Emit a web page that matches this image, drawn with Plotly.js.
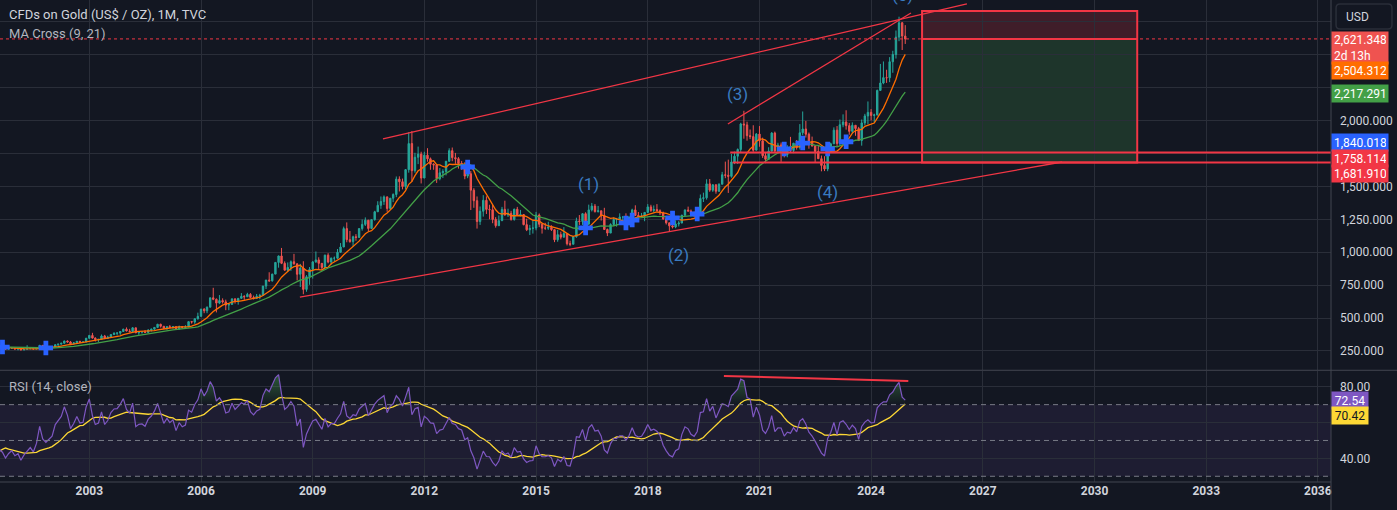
<!DOCTYPE html>
<html><head><meta charset="utf-8">
<script src="https://cdn.plot.ly/plotly-3.0.1.min.js"></script>
<style>html,body{margin:0;padding:0;background:#131722;}#chart{width:1397px;height:510px;}</style>
</head><body><div id="chart"></div>
<script>
// ---- monthly OHLC, TVC:GOLD, Jan 1997 .. Dec 2024 (one row per year) ----
const firstYear = 1997;
const opens = [
369,345,364,349,340,345,334,326,325,332,311,296,
290,304,297,301,310,293,296,288,273,294,292,294,
288,288,287,280,287,268,262,255,254,299,300,292,
288,283,293,277,274,272,288,276,277,273,264,269,
272,265,267,258,263,266,270,265,273,293,279,275,
279,282,297,302,309,326,318,304,312,324,317,318,
347,368,348,336,339,364,346,355,375,385,386,398,
416,402,397,426,388,394,395,391,408,416,429,453,
438,422,435,428,435,417,436,429,433,473,470,495,
513,568,556,583,654,643,614,633,623,599,604,646,
632,650,665,662,680,657,650,666,672,743,789,783,
834,923,972,916,864,885,928,912,833,880,718,814,
870,927,942,916,884,978,926,955,955,1000,1040,1180,
1096,1081,1118,1113,1180,1212,1244,1181,1248,1308,1357,1386,
1421,1333,1411,1439,1556,1536,1500,1628,1826,1620,1722,1746,
1564,1738,1710,1669,1664,1559,1604,1614,1692,1772,1719,1711,
1675,1664,1579,1597,1472,1392,1234,1312,1395,1326,1323,1250,
1202,1240,1326,1284,1296,1250,1327,1282,1287,1210,1171,1182,
1184,1283,1213,1183,1183,1190,1172,1095,1134,1115,1142,1065,
1061,1118,1238,1234,1293,1215,1322,1351,1309,1315,1277,1173,
1146,1211,1249,1249,1268,1268,1242,1269,1322,1280,1271,1275,
1303,1345,1318,1325,1316,1299,1253,1224,1201,1192,1215,1222,
1282,1321,1313,1292,1284,1305,1409,1414,1520,1472,1513,1464,
1517,1589,1585,1577,1686,1730,1781,1975,1968,1886,1879,1776,
1898,1847,1734,1707,1769,1906,1770,1814,1813,1742,1783,1774,
1829,1796,1908,1937,1897,1837,1807,1766,1711,1660,1633,1768,
1824,1928,1827,1969,1990,1962,1919,1965,1940,1849,1983,2036,
2063,2040,2044,2230,2286,2327,2326,2448,2503,2635,2744,2643];
const highs = [
370,366,365,350,350,346,335,330,336,334,316,298,
307,305,304,316,311,300,297,289,300,304,299,297,
294,291,291,292,290,269,264,257,310,339,305,294,
293,313,294,288,278,294,291,281,279,274,272,275,
273,268,269,266,294,276,272,280,296,294,284,281,
288,302,304,311,328,330,326,316,326,325,323,349,
372,388,354,341,375,372,366,377,392,392,399,418,
429,418,431,427,396,398,409,416,418,430,456,457,
439,437,447,437,436,443,437,446,474,478,497,541,
570,575,588,655,730,649,675,650,640,608,648,649,
652,690,674,692,690,671,683,684,745,790,848,837,
925,975,1033,931,923,938,988,916,912,932,826,888,
933,1006,962,916,982,993,960,968,1025,1070,1195,1227,
1162,1126,1138,1180,1249,1265,1245,1250,1315,1388,1424,1432,
1424,1412,1448,1576,1577,1560,1632,1913,1921,1756,1803,1764,
1764,1791,1720,1677,1668,1640,1631,1692,1790,1796,1755,1723,
1694,1684,1617,1617,1487,1424,1348,1434,1425,1361,1361,1267,
1280,1345,1392,1331,1315,1332,1345,1322,1290,1255,1208,1239,
1307,1295,1220,1224,1232,1205,1174,1170,1157,1191,1142,1088,
1123,1263,1283,1298,1304,1362,1375,1367,1352,1317,1338,1180,
1220,1264,1261,1296,1270,1296,1270,1331,1357,1306,1299,1306,
1366,1361,1356,1366,1326,1309,1266,1224,1214,1243,1237,1284,
1326,1347,1325,1310,1306,1439,1453,1555,1557,1517,1516,1524,
1611,1689,1704,1747,1765,1789,1984,2075,1992,1933,1965,1906,
1959,1871,1756,1798,1913,1917,1832,1834,1834,1814,1877,1831,
1853,1974,2070,1998,1910,1879,1814,1808,1735,1730,1786,1833,
1949,1959,2009,2048,2079,1983,1987,1966,1953,2009,2052,2146,
2088,2053,2236,2431,2450,2387,2483,2531,2685,2790,2750,2726];
const lows = [
344,340,347,336,338,334,318,320,318,306,294,283,
278,290,291,300,290,288,287,271,272,290,289,285,
284,281,278,278,267,257,252,251,254,295,288,279,
281,283,274,273,264,272,273,269,267,263,263,267,
262,255,256,255,263,264,264,264,271,277,272,271,
278,282,288,300,307,313,302,300,311,311,314,317,
343,344,322,319,337,340,341,350,371,368,373,398,
399,392,391,386,372,382,389,388,398,411,424,428,
417,411,425,420,414,414,418,428,433,458,456,488,
513,537,537,581,636,543,606,610,560,560,603,610,
602,646,637,661,651,641,648,643,671,721,776,777,
834,883,910,860,850,859,906,786,736,681,700,753,
800,920,866,866,883,916,905,931,950,995,1040,1076,
1073,1044,1088,1111,1164,1200,1157,1177,1240,1308,1330,1360,
1308,1323,1381,1419,1462,1478,1478,1605,1535,1604,1670,1523,
1564,1688,1627,1627,1527,1547,1564,1584,1686,1692,1672,1636,
1626,1555,1563,1321,1338,1180,1208,1271,1291,1251,1221,1187,
1202,1238,1278,1268,1240,1240,1281,1273,1205,1161,1131,1142,
1167,1191,1142,1170,1170,1162,1077,1080,1098,1112,1052,1046,
1061,1111,1208,1208,1200,1207,1310,1302,1302,1241,1171,1123,
1146,1200,1195,1242,1214,1236,1205,1267,1275,1260,1264,1236,
1302,1307,1303,1311,1282,1247,1211,1160,1181,1183,1196,1221,
1276,1311,1281,1266,1267,1305,1382,1400,1459,1459,1445,1459,
1517,1563,1451,1567,1670,1671,1757,1863,1848,1860,1764,1776,
1802,1717,1677,1705,1765,1761,1751,1687,1721,1722,1759,1753,
1780,1781,1890,1872,1787,1805,1681,1709,1615,1617,1616,1765,
1824,1804,1810,1950,1932,1893,1903,1885,1846,1810,1965,1973,
2002,1985,2039,2228,2277,2287,2293,2364,2472,2604,2537,2583];
const closes = [
345,364,349,340,345,334,326,325,332,311,296,290,
304,297,301,310,293,296,288,273,294,292,294,288,
288,287,280,287,268,262,255,254,299,300,292,288,
283,293,277,274,272,288,276,277,273,264,269,272,
265,267,258,263,266,270,265,273,293,279,275,279,
282,297,302,309,326,318,304,312,324,317,318,347,
368,348,336,339,364,346,355,375,385,386,398,416,
402,397,426,388,394,395,391,408,416,429,453,438,
422,435,428,435,417,436,429,433,473,470,495,513,
568,556,583,654,643,614,633,623,599,604,646,632,
650,665,662,680,657,650,666,672,743,789,783,834,
923,972,916,864,885,928,912,833,880,718,814,870,
927,942,916,884,978,926,955,955,1000,1040,1180,1096,
1081,1118,1113,1180,1212,1244,1181,1248,1308,1357,1386,1421,
1333,1411,1439,1556,1536,1500,1628,1826,1620,1722,1746,1564,
1738,1710,1669,1664,1559,1604,1614,1692,1772,1719,1711,1675,
1664,1579,1597,1472,1392,1234,1312,1395,1326,1323,1250,1202,
1240,1326,1284,1296,1250,1327,1282,1287,1210,1171,1182,1184,
1283,1213,1183,1183,1190,1172,1095,1134,1115,1142,1065,1061,
1118,1238,1234,1293,1215,1322,1351,1309,1315,1277,1173,1146,
1211,1249,1249,1268,1268,1242,1269,1322,1280,1271,1275,1303,
1345,1318,1325,1316,1299,1253,1224,1201,1192,1215,1222,1282,
1321,1313,1292,1284,1305,1409,1414,1520,1472,1513,1464,1517,
1589,1585,1577,1686,1730,1781,1975,1968,1886,1879,1776,1898,
1847,1734,1707,1769,1906,1770,1814,1813,1742,1783,1774,1829,
1796,1908,1937,1897,1837,1807,1766,1711,1660,1633,1768,1824,
1928,1827,1969,1990,1962,1919,1965,1940,1849,1983,2036,2063,
2040,2044,2230,2286,2327,2326,2448,2503,2635,2744,2643,2621];

// MA Cross markers
const crossDates  = ['2000-09-01','2001-11-01','2013-03-01','2016-05-01','2017-06-01','2017-08-01','2018-09-01','2019-05-01','2021-09-01','2022-03-01','2022-11-01','2023-05-01'];
const crossPrices = [280,273,1648,1185,1223,1245,1261,1291,1785,1830,1785,1840.018];

// price-scale ticks (those hidden behind labels in the reference have empty text)
const priceTicks     = [250,500,750,1000,1250,1500,1750,2000,2250,2500,2750];
const priceTickShown = [true,true,true,true,true,true,false,true,false,false,false];
const rsiTicks       = [40,60,80];
const rsiTickShown   = [true,false,true];

// price-scale labels
const priceLabelValues = [2621.348, 2504.312, 2217.291, 1840.018, 1758.114, 1681.910];
const priceLabelNotes  = ['2d 13h','','','','',''];
const rsiLabelValues   = [72.54, 70.42];

// drawings
const trendDates  = [['2010-11-21','2026-07-29'],['2020-02-26','2025-01-26'],['2008-08-28','2029-02-17']];
const trendPrices = [[1861,2887],[1975,2818],[660,1686]];
const levelPrices = [1758.114, 1681.910];
const levelStartDates = ['2020-03-20','2020-04-12'];
const positionDates = ['2025-05-15','2031-02-24'];
const positionEntry = 2621.348, positionStop = 2834, positionTarget = 1681.910;
const waveLabels = ['(1)','(2)','(3)','(4)','(5)'];
const waveDates  = ['2016-06-01','2018-10-28','2020-05-27','2022-11-02','2024-11-06'];
const wavePrices = [1519, 983, 2203, 1458, 2955];
const rsiTrendDates  = ['2020-01-18','2024-12-31'];
const rsiTrendValues = [86.0, 83.2];
const yearTicks = ['2003','2006','2009','2012','2015','2018','2021','2024','2027','2030','2033','2036'];

// ---- indicators ----
const dates = closes.map((_, i) => `${firstYear + Math.floor(i / 12)}-${String(i % 12 + 1).padStart(2, '0')}-01`);
function sma(src, len) {
  return src.map((_, i) => {
    if (i < len - 1) return null;
    const w = src.slice(i - len + 1, i + 1);
    if (w.some(v => v === null)) return null;
    return w.reduce((a, b) => a + b, 0) / len;
  });
}
function rsi(src, len) {
  const out = src.map(() => null);
  let au = 0, ad = 0;
  for (let i = 1; i < src.length; i++) {
    const ch = src[i] - src[i - 1], u = Math.max(ch, 0), d = Math.max(-ch, 0);
    if (i <= len) { au += u / len; ad += d / len; if (i === len) out[i] = 100 - 100 / (1 + au / ad); }
    else { au = (au * (len - 1) + u) / len; ad = (ad * (len - 1) + d) / len; out[i] = ad === 0 ? 100 : 100 - 100 / (1 + au / ad); }
  }
  return out;
}
const ma9 = sma(closes, 9), ma21 = sma(closes, 21);
const rsi14 = rsi(closes, 14);
const rsiMa = sma(rsi14, 14);
const rsiOver = rsi14.map(v => v === null ? null : Math.max(v, 70));

const RED = '#f23645';
const traces = [
  {type:'candlestick', x:dates, open:opens, high:highs, low:lows, close:closes, xaxis:'x', yaxis:'y',
   increasing:{line:{color:'#26a69a', width:1}, fillcolor:'#26a69a'},
   decreasing:{line:{color:'#ef5350', width:1}, fillcolor:'#ef5350'},
   whiskerwidth:0, hoverinfo:'skip'},
  {type:'scatter', mode:'lines', x:dates, y:ma9, line:{color:'#ff6d00', width:1.3}, yaxis:'y', hoverinfo:'skip'},
  {type:'scatter', mode:'lines', x:dates, y:ma21, line:{color:'#43a047', width:1.3}, yaxis:'y', hoverinfo:'skip'},
  {type:'scatter', mode:'markers', x:crossDates, y:crossPrices, marker:{symbol:'cross', size:12, color:'#2962ff', line:{width:0}}, yaxis:'y', hoverinfo:'skip'},
  {type:'scatter', mode:'lines', x:dates, y:rsi14.map(v => v === null ? null : 70), line:{width:0, color:'rgba(0,0,0,0)'}, yaxis:'y2', hoverinfo:'skip'},
  {type:'scatter', mode:'lines', x:dates, y:rsiOver, line:{width:0, color:'rgba(0,0,0,0)'}, fill:'tonexty',
   fillgradient:{type:'vertical', colorscale:[[0,'rgba(76,175,80,0)'],[1,'rgba(76,175,80,0.45)']]}, yaxis:'y2', hoverinfo:'skip'},
  {type:'scatter', mode:'lines', x:dates, y:rsiMa, line:{color:'#fdd835', width:1.3}, yaxis:'y2', hoverinfo:'skip'},
  {type:'scatter', mode:'lines', x:dates, y:rsi14, line:{color:'#7e57c2', width:1.2}, yaxis:'y2', hoverinfo:'skip'}
];

const shapes = [
  {type:'rect', xref:'paper', yref:'y2', x0:0, x1:1, y0:30, y1:70, fillcolor:'rgba(126,87,194,0.10)', line:{width:0}, layer:'below'},
  ...[70,50,30].map(v => ({type:'line', xref:'paper', yref:'y2', x0:0, x1:1, y0:v, y1:v, line:{color:'#787b86', width:1, dash:'5px,4px'}})),
  {type:'rect', xref:'x', yref:'y', x0:positionDates[0], x1:positionDates[1], y0:positionEntry, y1:positionStop, fillcolor:'rgba(242,54,69,0.2)', line:{width:0}, layer:'below'},
  {type:'rect', xref:'x', yref:'y', x0:positionDates[0], x1:positionDates[1], y0:positionTarget, y1:positionEntry, fillcolor:'rgba(76,175,80,0.2)', line:{width:0}, layer:'below'},
  {type:'line', xref:'paper', yref:'y', x0:0, x1:1, y0:priceLabelValues[0], y1:priceLabelValues[0], line:{color:RED, width:1, dash:'dot'}},
  ...trendDates.map((d, i) => ({type:'line', xref:'x', yref:'y', x0:d[0], x1:d[1], y0:trendPrices[i][0], y1:trendPrices[i][1], line:{color:RED, width:1.3}})),
  ...levelPrices.map((p, i) => ({type:'line', xref:'x', yref:'y', x0:levelStartDates[i], x1:'2040-01-01', y0:p, y1:p, line:{color:RED, width:2}})),
  {type:'rect', xref:'x', yref:'y', x0:positionDates[0], x1:positionDates[1], y0:positionTarget, y1:positionStop, line:{color:RED, width:2}},
  {type:'line', xref:'x', yref:'y', x0:positionDates[0], x1:positionDates[1], y0:positionEntry, y1:positionEntry, line:{color:RED, width:2}},
  {type:'line', xref:'x', yref:'y2', x0:rsiTrendDates[0], x1:rsiTrendDates[1], y0:rsiTrendValues[0], y1:rsiTrendValues[1], line:{color:RED, width:2}},
  // pane borders
  {type:'line', xref:'paper', yref:'paper', x0:0, x1:1.0496, y0:0.2318, y1:0.2318, line:{color:'#434651', width:1}},
  {type:'line', xref:'paper', yref:'paper', x0:0, x1:1, y0:0, y1:0, line:{color:'#434651', width:1}},
  {type:'line', xref:'paper', yref:'paper', x0:1, x1:1, y0:-0.06, y1:1, line:{color:'#434651', width:1}},
  // USD box
  {type:'path', xref:'paper', yref:'paper', path:'M1.0068,0.9917 L1.0428,0.9917 Q1.0458,0.9917 1.0458,0.9834 L1.0458,0.9481 Q1.0458,0.9398 1.0428,0.9398 L1.0068,0.9398 Q1.0038,0.9398 1.0038,0.9481 L1.0038,0.9834 Q1.0038,0.9917 1.0068,0.9917 Z', line:{color:'#2a2e39', width:1.5}, fillcolor:'#131722'}
];

const fmt = v => v.toLocaleString('en-US', {minimumFractionDigits:3, maximumFractionDigits:3});
const priceLabelBg = ['#ef5350','#ff6d00','#43a047','#2962ff',RED,RED];
const priceLabelShift = [-9,-16,-1,-1,-5.5,-11];
const yTop = 2917;
const annotations = [
  {xref:'paper', yref:'paper', x:0, y:0.9689, xshift:7, xanchor:'left', yanchor:'middle', showarrow:false, text:'CFDs on Gold (US$ / OZ), 1M, TVC', font:{size:13, color:'#d1d4dc'}},
  {xref:'paper', yref:'paper', x:0, y:0.9315, xshift:7, xanchor:'left', yanchor:'middle', showarrow:false, text:'MA Cross (9, 21)', font:{size:13, color:'#b2b5be'}},
  {xref:'paper', yref:'paper', x:0, y:0.1971, xshift:7, xanchor:'left', yanchor:'middle', showarrow:false, text:'RSI (14, close)', font:{size:13, color:'#b2b5be'}},
  {xref:'paper', yref:'paper', x:1, y:0.9657, xshift:13, xanchor:'left', yanchor:'middle', showarrow:false, text:'USD', font:{size:12, color:'#d1d4dc'}},
  // wave labels; the last one sits above the visible range and is clipped by the page top
  ...waveLabels.map((t, i) => ({xref:'x', yref:'y', x:waveDates[i], y:Math.min(wavePrices[i], yTop - 1),
     yshift: wavePrices[i] > yTop ? (wavePrices[i] - yTop) * 0.1316 : 0, text:t, showarrow:false, xanchor:'center', yanchor:'middle',
     font:{size:17, color:'#3a7bc0'}})),
  ...priceLabelValues.map((v, i) => ({xref:'paper', yref:'y', x:1, y:v, xshift:0, yshift:priceLabelShift[i], xanchor:'left', yanchor:'middle', showarrow:false,
     text: fmt(v) + (priceLabelNotes[i] ? '<br>' + priceLabelNotes[i] : ''), align:'left', width:52, height: priceLabelNotes[i] ? 28 : 13,
     borderpad:2, bgcolor:priceLabelBg[i], font:{size:12, color:'#ffffff'}})),
  ...rsiLabelValues.map((v, i) => ({xref:'paper', yref:'y2', x:1, y:v, yshift:i === 0 ? -0.5 : -12, xanchor:'left', yanchor:'middle', showarrow:false,
     text: v.toFixed(2), width:32, height:13, borderpad:2, bgcolor: i === 0 ? '#7e57c2' : '#fdd835', font:{size:12, color: i === 0 ? '#ffffff' : '#131722'}}))
];

const layout = {
  width:1397, height:510, paper_bgcolor:'#131722', plot_bgcolor:'#131722',
  margin:{l:0, r:66, t:0, b:28}, showlegend:false, hovermode:false,
  font:{family:'Roboto, "Noto Sans", sans-serif', color:'#d1d4dc', size:12},
  xaxis:{type:'date', anchor:'y2', range:['2000-08-08','2036-05-09'], tickvals:yearTicks.map(y => y + '-01-01'), ticktext:yearTicks,
         showgrid:true, gridcolor:'#2a2e39', gridwidth:1, zeroline:false, showline:false, ticks:'', rangeslider:{visible:false},
         tickfont:{size:12, color:'#d1d4dc', weight:'bold'}, fixedrange:true},
  yaxis:{domain:[0.2324, 1], range:[105.6, yTop], side:'right', tickmode:'array', tickvals:priceTicks,
         ticktext:priceTicks.map((v, i) => priceTickShown[i] ? fmt(v) : ''), showgrid:true, gridcolor:'#2a2e39',
         zeroline:false, showline:false, ticks:'', ticklabelstandoff:8, tickfont:{size:12, color:'#d1d4dc'}, fixedrange:true},
  yaxis2:{domain:[0, 0.2303], range:[26.8, 88.8], side:'right', tickmode:'array', tickvals:rsiTicks,
          ticktext:rsiTicks.map((v, i) => rsiTickShown[i] ? v.toFixed(2) : ''), showgrid:true, gridcolor:'#2a2e39',
          zeroline:false, showline:false, ticks:'', ticklabelstandoff:8, tickfont:{size:12, color:'#d1d4dc'}, fixedrange:true},
  shapes, annotations
};
Plotly.newPlot('chart', traces, layout, {displayModeBar:false, staticPlot:true});
</script></body></html>
